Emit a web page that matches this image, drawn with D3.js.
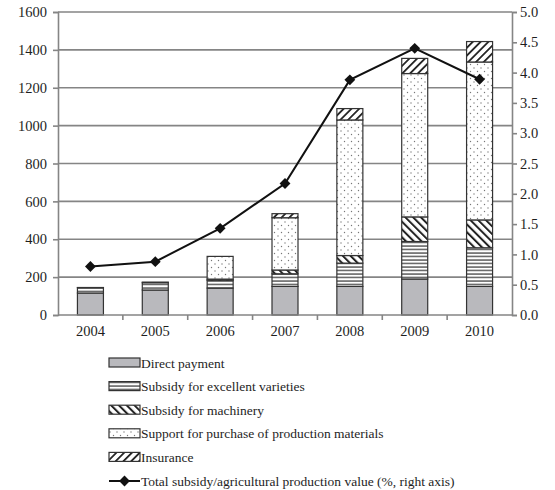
<!DOCTYPE html>
<html>
<head>
<meta charset="utf-8">
<script src="https://cdn.jsdelivr.net/npm/d3@7"></script>
<style>
  body { margin: 0; background: #fff; }
  svg { display: block; }
  svg text { font-family: "Liberation Serif", "Times New Roman", Times, serif; fill: #1e1e1e; }
</style>
</head>
<body>
<svg id="chart" width="555" height="490"></svg>
<script>
// Agricultural subsidies by year (stacked bars, left axis) and their share of production value (line, right axis)
const years = ["2004", "2005", "2006", "2007", "2008", "2009", "2010"];
const directPayment = [116, 132, 142, 151, 151, 190, 151];
const excellentVarieties = [28.5, 38.7, 41.5, 66.6, 123, 198, 204];
const machinery = [0.7, 3, 6, 20, 40, 130, 147];
const productionMaterials = [0, 0, 120, 276, 716, 757, 834];
const insurance = [0, 0, 0, 21.5, 60, 80, 108];
const subsidyShare = [0.80, 0.88, 1.43, 2.17, 3.88, 4.40, 3.89];
const leftTicks = [0, 200, 400, 600, 800, 1000, 1200, 1400, 1600];
const rightTicks = [0, 0.5, 1, 1.5, 2, 2.5, 3, 3.5, 4, 4.5, 5];

const seriesNames = [
  "Direct payment",
  "Subsidy for excellent varieties",
  "Subsidy for machinery",
  "Support for purchase of production materials",
  "Insurance"
];
const seriesValues = [directPayment, excellentVarieties, machinery, productionMaterials, insurance];
const lineName = "Total subsidy/agricultural production value (%, right axis)";

const svg = d3.select("#chart");
const plotLeft = 58, plotRight = 512, plotTop = 12, plotBottom = 315;
const axisColor = "#858585";

// Fill patterns
const defs = svg.append("defs");
function pattern(id, w, h, draw, bg = "#fff") {
  const p = defs.append("pattern").attr("id", id).attr("patternUnits", "userSpaceOnUse")
    .attr("width", w).attr("height", h);
  p.append("rect").attr("width", w).attr("height", h).attr("fill", bg);
  draw(p);
}
pattern("pat-h", 6, 3.5, p => p.append("line").attr("x1", 0).attr("x2", 6).attr("y1", 1).attr("y2", 1)
  .attr("stroke", "#222").attr("stroke-width", 1.1));
pattern("pat-back", 5.5, 5.5, p => {
  p.attr("patternTransform", "rotate(-45)");
  p.append("line").attr("x1", 0).attr("x2", 0).attr("y1", 0).attr("y2", 5.5).attr("stroke", "#222").attr("stroke-width", 4);
});
pattern("pat-fwd", 5.5, 5.5, p => {
  p.attr("patternTransform", "rotate(45)");
  p.append("line").attr("x1", 0).attr("x2", 0).attr("y1", 0).attr("y2", 5.5).attr("stroke", "#222").attr("stroke-width", 3.6);
});
pattern("pat-dot", 7, 7, p => {
  p.append("circle").attr("cx", 1.5).attr("cy", 1.5).attr("r", 0.7).attr("fill", "#777");
  p.append("circle").attr("cx", 5).attr("cy", 5).attr("r", 0.7).attr("fill", "#777");
});
const fills = ["#b9b9bd", "url(#pat-h)", "url(#pat-back)", "url(#pat-dot)", "url(#pat-fwd)"];

// Scales
const x = d3.scaleBand().domain(years).range([plotLeft, plotRight]);
const yL = d3.scaleLinear().domain([0, 1600]).range([plotBottom, plotTop]);
const yR = d3.scaleLinear().domain([0, 5]).range([plotBottom, plotTop]);

// Gridlines
svg.append("g").selectAll("line").data(leftTicks.slice(1)).join("line")
  .attr("x1", plotLeft).attr("x2", plotRight).attr("y1", d => yL(d)).attr("y2", d => yL(d))
  .attr("stroke", axisColor).attr("stroke-width", 1.6);

// Stacked bars
const table = years.map((yr, i) => {
  const row = { year: yr };
  seriesNames.forEach((n, k) => row[n] = seriesValues[k][i]);
  return row;
});
const stacked = d3.stack().keys(seriesNames)(table);
const barW = 26;
stacked.forEach((layer, k) => {
  svg.append("g").selectAll("rect").data(layer.filter(d => d[1] - d[0] > 0)).join("rect")
    .attr("x", d => x(d.data.year) + x.bandwidth() / 2 - barW / 2)
    .attr("width", barW)
    .attr("y", d => yL(d[1]))
    .attr("height", d => yL(d[0]) - yL(d[1]))
    .attr("fill", fills[k])
    .attr("stroke", "#333").attr("stroke-width", 1.2);
});

// Axes
const gL = svg.append("g").attr("transform", `translate(${plotLeft},0)`)
  .call(d3.axisLeft(yL).tickValues(leftTicks).tickSize(5).tickPadding(6).tickFormat(d3.format("d")));
const gR = svg.append("g").attr("transform", `translate(${plotRight},0)`)
  .call(d3.axisRight(yR).tickValues(rightTicks).tickSize(5).tickPadding(3).tickFormat(d3.format(".1f")));
const gB = svg.append("g").attr("transform", `translate(0,${plotBottom})`)
  .call(d3.axisBottom(x).tickSize(0).tickPadding(11));
[gL, gR, gB].forEach(g => {
  g.attr("font-family", null);
  g.select(".domain").attr("stroke", axisColor).attr("stroke-width", 1.6);
  g.selectAll(".tick line").attr("stroke", axisColor).attr("stroke-width", 1.6);
  g.selectAll("text").attr("font-size", 14.5).attr("fill", null);
});
gB.select(".domain").attr("d", `M${plotLeft},0H${plotRight}`);
// category separators below the baseline
svg.append("g").selectAll("line").data(years.slice(0, -1)).join("line")
  .attr("x1", d => x(d) + x.bandwidth()).attr("x2", d => x(d) + x.bandwidth())
  .attr("y1", plotBottom).attr("y2", plotBottom + 5)
  .attr("stroke", axisColor).attr("stroke-width", 1.6);

// Share line with diamond markers
const cx = d => x(d) + x.bandwidth() / 2;
svg.append("path").datum(subsidyShare)
  .attr("d", d3.line().x((d, i) => cx(years[i])).y(d => yR(d)))
  .attr("fill", "none").attr("stroke", "#111").attr("stroke-width", 2);
const diamond = d3.symbol().type(d3.symbolDiamond2).size(75);
svg.append("g").selectAll("path").data(subsidyShare).join("path")
  .attr("d", diamond)
  .attr("transform", (d, i) => `translate(${cx(years[i])},${yR(d)})`)
  .attr("fill", "#111");

// Legend
const legend = svg.append("g").attr("font-size", 13.5);
const rowY = i => 363 + i * 23.6;
seriesNames.forEach((n, k) => {
  legend.append("rect").attr("x", 109).attr("y", rowY(k) - 5).attr("width", 31).attr("height", 9)
    .attr("fill", fills[k]).attr("stroke", "#333").attr("stroke-width", 1.2);
  legend.append("text").attr("x", 141).attr("y", rowY(k) + 4.5).text(n);
});
const ly = rowY(5);
legend.append("line").attr("x1", 109).attr("x2", 140).attr("y1", ly).attr("y2", ly)
  .attr("stroke", "#111").attr("stroke-width", 2);
legend.append("path").attr("d", diamond).attr("transform", `translate(124.5,${ly})`).attr("fill", "#111");
legend.append("text").attr("x", 141).attr("y", ly + 4.5).text(lineName);
</script>
</body>
</html>
